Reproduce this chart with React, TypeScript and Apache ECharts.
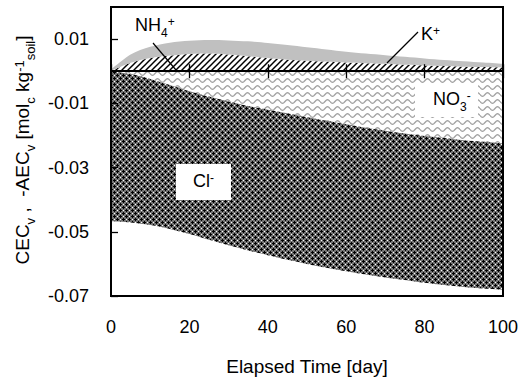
import React, { useEffect, useRef } from 'react';
import * as echarts from 'echarts';

const days = [0, 5, 10, 15, 20, 25, 30, 35, 40, 45, 50, 55, 60, 65, 70, 75, 80, 85, 90, 95, 100];
const nh4 = [0, 0.0026, 0.0041, 0.0049, 0.0054, 0.0055, 0.0052, 0.0047, 0.0041, 0.0036, 0.0033, 0.003, 0.0027, 0.0025, 0.0023, 0.002, 0.0018, 0.0016, 0.0014, 0.0013, 0.0012];
const kPlus = [0.0005, 0.0026, 0.0035, 0.004, 0.0041, 0.0042, 0.0044, 0.0046, 0.0047, 0.0046, 0.0042, 0.0038, 0.0034, 0.003, 0.0027, 0.0025, 0.0022, 0.0019, 0.0017, 0.0014, 0.0011];
const no3 = [0, -0.0009, -0.0024, -0.0043, -0.0062, -0.0079, -0.0094, -0.0108, -0.012, -0.0131, -0.0143, -0.0154, -0.0165, -0.0176, -0.0185, -0.0194, -0.0202, -0.0208, -0.0215, -0.022, -0.0225];
const cl = [-0.0467, -0.0462, -0.0455, -0.0448, -0.0445, -0.0446, -0.0448, -0.045, -0.0453, -0.0456, -0.0457, -0.0458, -0.0458, -0.0457, -0.0457, -0.0456, -0.0457, -0.0458, -0.0457, -0.0457, -0.0456];
const xLabelEvery = 3; // show every 4th day label: 0, 20, 40, 60, 80, 100

const FONT = "'Liberation Sans', Arial, sans-serif";

function hatchPattern() {
  const s = 6;
  const c = document.createElement('canvas');
  c.width = s; c.height = s;
  const g = c.getContext('2d')!;
  g.fillStyle = '#fff'; g.fillRect(0, 0, s, s);
  g.strokeStyle = '#000'; g.lineWidth = 1.5;
  for (const o of [-s, 0, s]) {
    g.beginPath(); g.moveTo(o - 1, s + 1); g.lineTo(o + s + 1, -1); g.stroke();
  }
  return c;
}
function wavePattern() {
  const w = 10, h = 7;
  const c = document.createElement('canvas');
  c.width = w; c.height = h;
  const g = c.getContext('2d')!;
  g.fillStyle = '#fff'; g.fillRect(0, 0, w, h);
  g.strokeStyle = '#a0a0a0'; g.lineWidth = 1.3;
  g.beginPath();
  for (let x = 0; x <= w; x += 0.5) {
    const y = 3.5 + 1.8 * Math.sin((2 * Math.PI * x) / w);
    if (x === 0) g.moveTo(x, y); else g.lineTo(x, y);
  }
  g.stroke();
  return c;
}
function checkPattern() {
  const c = document.createElement('canvas');
  c.width = 6; c.height = 6;
  const g = c.getContext('2d')!;
  g.fillStyle = '#747474'; g.fillRect(0, 0, 6, 6);
  g.fillStyle = '#000';
  const blk = [[3, 2], [3, 3], [3, 4], [2, 3], [4, 3], [0, 0], [1, 0], [5, 0], [0, 1], [0, 5]];
  blk.forEach(([x, y]) => g.fillRect(x, y, 1, 1));
  g.fillStyle = '#fff';
  [[3, 0], [0, 3]].forEach(([x, y]) => g.fillRect(x, y, 1, 1));
  return c;
}

const rich = {
  m: { fontSize: 18, lineHeight: 20, verticalAlign: 'top', fontFamily: FONT, fill: '#000' },
  sub: { fontSize: 12, lineHeight: 12, verticalAlign: 'top', padding: [11, 0, 0, 0], fontFamily: FONT, fill: '#000' },
  sup: { fontSize: 12, lineHeight: 12, verticalAlign: 'top', padding: [0, 0, 0, 0], fontFamily: FONT, fill: '#000' },
};
const richT = {
  m: { fontSize: 19, lineHeight: 21, verticalAlign: 'top', fontFamily: FONT, fill: '#000' },
  sub: { fontSize: 13, lineHeight: 13, verticalAlign: 'top', padding: [11, 0, 0, 0], fontFamily: FONT, fill: '#000' },
  sup: { fontSize: 13, lineHeight: 13, verticalAlign: 'top', padding: [0, 0, 0, 0], fontFamily: FONT, fill: '#000' },
};

export default function App() {
  const ref = useRef<HTMLDivElement>(null);
  useEffect(() => {
    document.body.style.margin = '0';
    const chart = echarts.init(ref.current!, null, { renderer: 'svg' });
    const pat = (c: HTMLCanvasElement) => ({ image: c, repeat: 'repeat', imageWidth: c.width, imageHeight: c.height });
    const base = { type: 'line', stack: 'all', symbol: 'none', smooth: 0.3, lineStyle: { width: 0 }, silent: true };
    const cats = days.map(String);
    const xBase = { type: 'category', data: cats, boundaryGap: false, splitLine: { show: false } };
    chart.setOption({
      animation: false,
      grid: { left: 111, right: 20, top: 7, bottom: 83, show: true, borderColor: '#000', borderWidth: 2, backgroundColor: 'transparent', z: 10 },
      xAxis: [
        {
          ...xBase, position: 'bottom',
          axisLine: { show: false, onZero: false },
          axisTick: { show: false },
          axisLabel: { interval: xLabelEvery, margin: 22, fontSize: 18, color: '#000', fontFamily: FONT },
          name: 'Elapsed Time [day]', nameLocation: 'middle', nameGap: 61,
          nameTextStyle: { fontSize: 19, color: '#000', fontFamily: FONT },
        },
        {
          ...xBase, position: 'bottom', z: 10,
          axisLine: { show: true, onZero: true, onZeroAxisIndex: 0, lineStyle: { color: '#000', width: 2 } },
          axisTick: { show: true, interval: xLabelEvery, inside: true, length: 7, lineStyle: { color: '#000', width: 1.3 } },
          axisLabel: { show: false },
        },
        {
          ...xBase, position: 'bottom', z: 10,
          axisLine: { show: true, onZero: true, onZeroAxisIndex: 0, lineStyle: { color: '#000', width: 2 } },
          axisTick: { show: true, interval: xLabelEvery, inside: false, length: 7, lineStyle: { color: '#000', width: 1.3 } },
          axisLabel: { show: false },
        },
      ],
      yAxis: {
        type: 'value', min: -0.07, max: 0.02, interval: 0.02, z: 10,
        axisLine: { show: true, onZero: false, lineStyle: { color: '#000', width: 2 } },
        axisTick: { show: true, inside: true, length: 7, lineStyle: { color: '#000', width: 1.3 } },
        axisLabel: { margin: 22, fontSize: 18, color: '#000', fontFamily: FONT, showMaxLabel: false, formatter: (v: number) => v.toFixed(2) },
        splitLine: { show: false },
      },
      series: [
        { ...base, name: 'NH4+', data: nh4, areaStyle: { color: pat(hatchPattern()), opacity: 1 } },
        { ...base, name: 'K+', data: kPlus, areaStyle: { color: '#c0c0c0', opacity: 1 } },
        { ...base, name: 'NO3-', data: no3, areaStyle: { color: pat(wavePattern()), opacity: 1 } },
        { ...base, name: 'Cl-', data: cl, areaStyle: { color: pat(checkPattern()), opacity: 1 } },
      ],
      graphic: [
        { type: 'line', shape: { x1: 153, y1: 43, x2: 176, y2: 70 }, style: { stroke: '#000', lineWidth: 1.2 }, z: 100 },
        { type: 'line', shape: { x1: 418, y1: 32, x2: 387, y2: 63 }, style: { stroke: '#000', lineWidth: 1.2 }, z: 100 },
        { type: 'text', x: 135, y: 15.5, z: 100, style: { text: '{m|NH}{sub|4}{sup|+}', rich, align: 'left', verticalAlign: 'top' } },
        { type: 'text', x: 421, y: 24.5, z: 100, style: { text: '{m|K}{sup|+}', rich, align: 'left', verticalAlign: 'top' } },
        { type: 'rect', shape: { x: 415, y: 83, width: 63, height: 34 }, style: { fill: '#fff' }, z: 100 },
        { type: 'text', x: 433, y: 90, z: 101, style: { text: '{m|NO}{sub|3}{sup|-}', rich, align: 'left', verticalAlign: 'top' } },
        { type: 'rect', shape: { x: 176, y: 164, width: 55, height: 36 }, style: { fill: '#fff' }, z: 100 },
        { type: 'text', x: 193, y: 172, z: 101, style: { text: '{m|Cl}{sup|-}', rich, align: 'left', verticalAlign: 'top' } },
        {
          type: 'text', x: 13, y: 150, rotation: Math.PI / 2, z: 100,
          style: { text: '{m|CEC}{sub|v}{m| ,  -AEC}{sub|v}{m| [mol}{sub|c}{m| kg}{sup|-1}{sub|soil}{m|]}', rich: richT, align: 'center', verticalAlign: 'top' },
        },
      ],
    });
    return () => chart.dispose();
  }, []);
  return <div ref={ref} style={{ width: 523, height: 381 }} />;
}
